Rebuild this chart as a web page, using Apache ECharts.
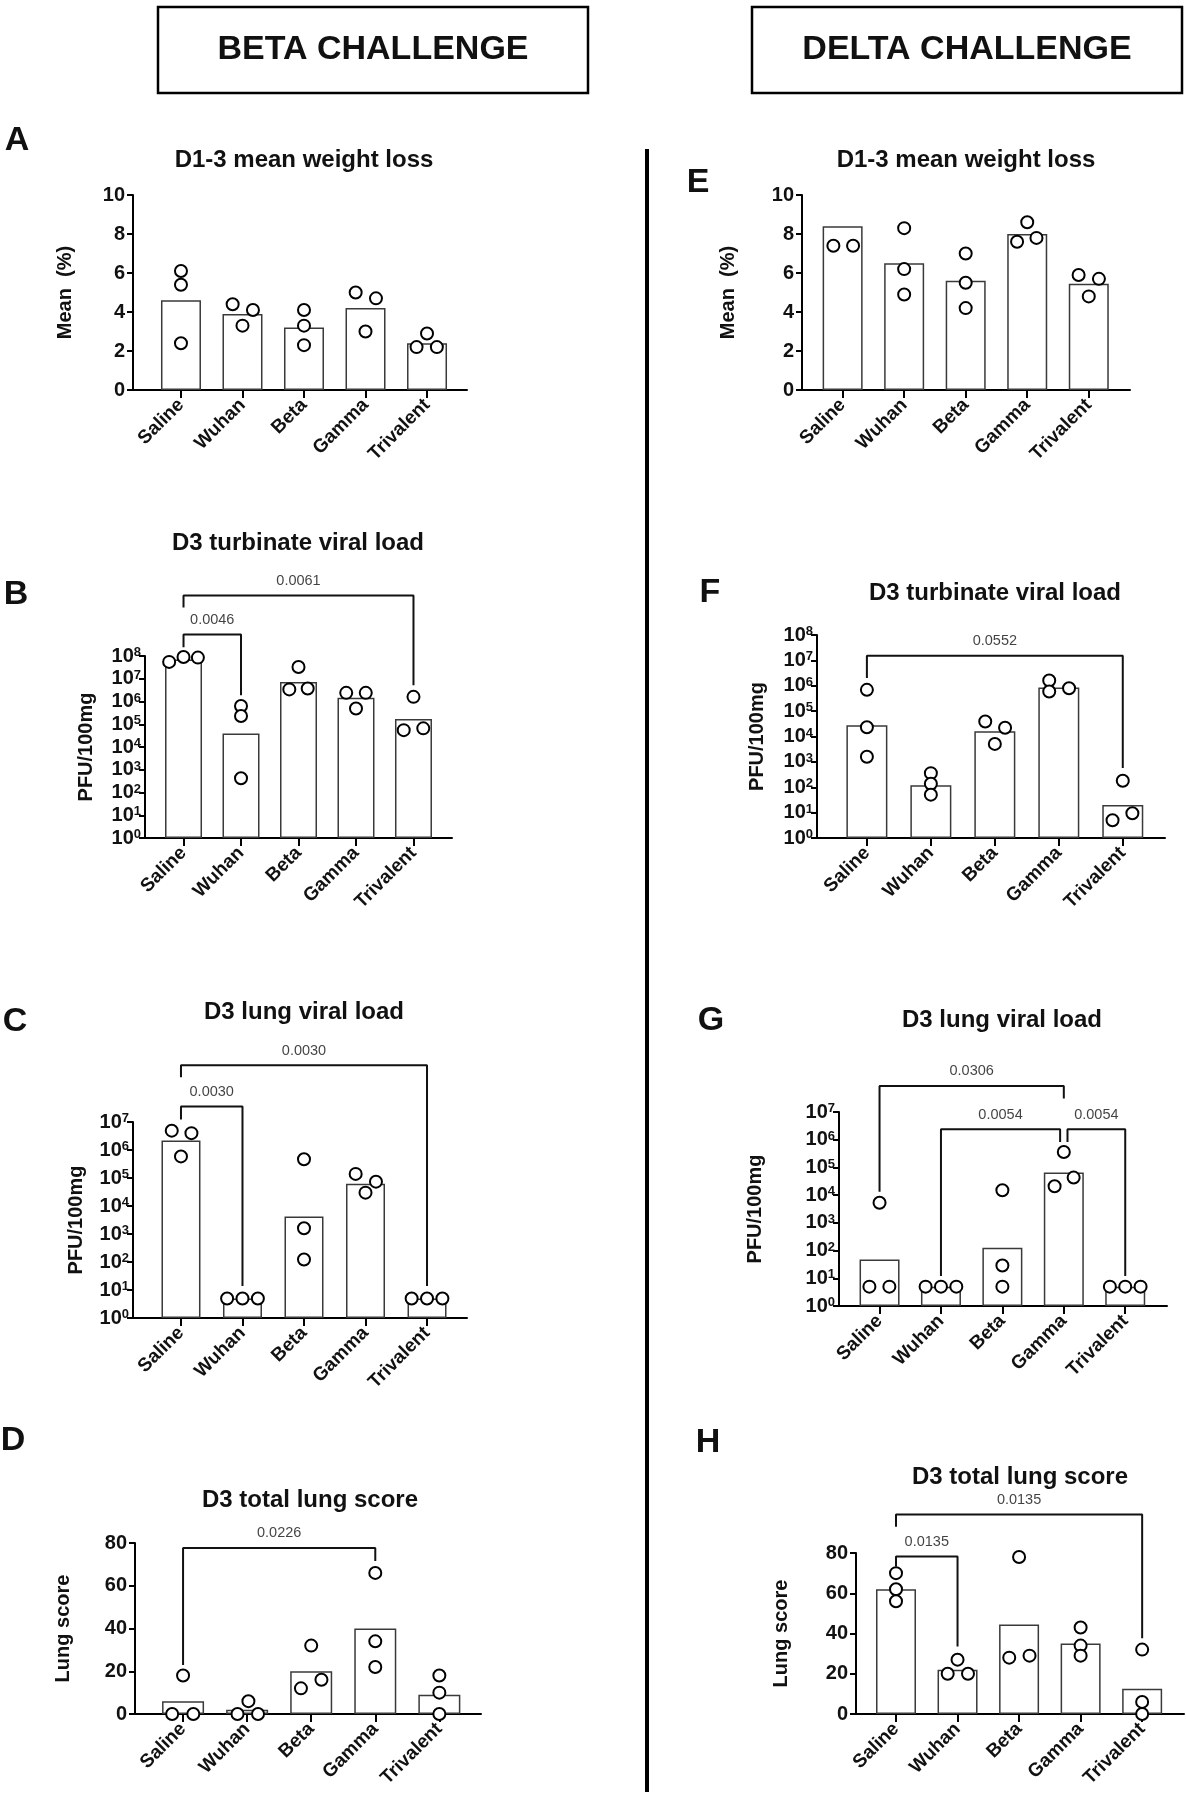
<!DOCTYPE html>
<html style="height: 100%">
<head>
	<meta charset="utf-8">
</head>
<body style="height: 100%; margin: 0; background: #fff">
<div id="container" style="width: 1186px; height: 1800px"></div>
<script type="text/javascript" src="https://cdn.jsdelivr.net/npm/echarts@6/dist/echarts.min.js"></script>
<script type="text/javascript">
	var cats = ['Saline', 'Wuhan', 'Beta', 'Gamma', 'Trivalent'];

	// A - beta challenge, D1-3 mean weight loss (%)
	var aBars = [4.6, 3.9, 3.2, 4.2, 2.4];
	var aPts = [[6.1, 5.4, 2.4], [4.4, 4.1, 3.3], [4.1, 3.3, 2.3], [5.0, 4.7, 3.0], [2.9, 2.2, 2.2]];
	var aJit = [[0, 0, 0], [-0.16, 0.17, 0], [0, 0, 0], [-0.16, 0.17, 0], [0, -0.17, 0.16]];

	// E - delta challenge, D1-3 mean weight loss (%)
	var eBars = [8.4, 6.5, 5.6, 8.0, 5.45];
	var ePts = [[7.4, 7.4], [8.3, 6.2, 4.9], [7.0, 5.5, 4.2], [8.6, 7.6, 7.8], [5.9, 5.7, 4.8]];
	var eJit = [[-0.15, 0.17], [0, 0, 0], [0, 0, 0], [0, -0.165, 0.15], [-0.165, 0.165, 0]];

	// B - beta, turbinate viral load (PFU/100mg)
	var bBars = [7e7, 3.9e4, 7.2e6, 1.45e6, 1.7e5];
	var bPts = [[5.5e7, 9e7, 8.5e7], [6.3e5, 2.3e5, 425], [3.3e7, 3.4e6, 3.7e6], [2.4e6, 2.4e6, 4.9e5], [1.6e6, 5.5e4, 6.6e4]];
	var bJit = [[-0.25, 0, 0.25], [0, 0, 0], [0, -0.16, 0.16], [-0.17, 0.17, 0], [0, -0.17, 0.17]];

	// F - delta, turbinate viral load
	var fBars = [2.8e4, 120, 1.6e4, 8.5e5, 20];
	var fPts = [[6.9e5, 2.3e4, 1.6e3], [360, 138, 51], [3.9e4, 2.2e4, 5.1e3], [1.6e6, 5.9e5, 8e5], [180, 5, 9.5]];
	var fJit = [[0, 0, 0], [0, 0, 0], [-0.15, 0.16, 0], [-0.15, -0.15, 0.16], [0, -0.16, 0.15]];

	// C - beta, lung viral load
	var cBars = [2.2e6, 5, 4.2e3, 6.2e4, 5];
	var cPts = [[4.9e6, 4e6, 5.9e5], [5, 5, 5], [4.7e5, 1.6e3, 123], [1.4e5, 7.4e4, 3e4], [5, 5, 5]];
	var cJit = [[-0.15, 0.17, 0], [-0.25, 0, 0.25], [0, 0, 0], [-0.16, 0.17, 0], [-0.25, 0, 0.25]];

	// G - delta, lung viral load
	var gBars = [48, 5, 126, 6.6e4, 5];
	var gPts = [[5.3e3, 5, 5], [5, 5, 5], [1.5e4, 29, 5], [3.6e5, 2.1e4, 4.3e4], [5, 5, 5]];
	var gJit = [[0, -0.165, 0.16], [-0.25, 0, 0.25], [0, 0, 0], [0, -0.15, 0.16], [-0.25, 0, 0.25]];

	// D - beta, total lung score
	var dBars = [6, 2, 20, 40, 9];
	var dPts = [[18, 0, 0], [6, 0, 0], [32, 12, 16], [66, 34, 22], [18, 10, 0]];
	var dJit = [[0, -0.17, 0.16], [0.02, -0.15, 0.17], [0, -0.16, 0.16], [0, 0, 0], [0, 0, 0]];

	// H - delta, total lung score
	var hBars = [62, 22, 44.5, 35, 12.5];
	var hPts = [[70, 62, 56], [27, 20, 20], [78, 28, 29], [43, 34, 29], [32, 6, 0]];
	var hJit = [[0, 0, 0], [0, -0.16, 0.17], [0, -0.16, 0.17], [0, 0, 0], [0, 0, 0]];

	// p-value brackets: from/to category, bracket level, left and right drop ends
	// (log panels give exponents)
	var bSig = [
		{from: 0, to: 4, p: '0.0061', top: 10.66, l: 10.13, r: 6.71},
		{from: 0, to: 1, p: '0.0046', top: 8.95, l: 8.38, r: 6.27}
	];
	var fSig = [
		{from: 0, to: 4, p: '0.0552', top: 7.18, l: 6.31, r: 2.76}
	];
	var cSig = [
		{from: 0, to: 4, p: '0.0030', top: 9.03, l: 8.60, r: 1.14},
		{from: 0, to: 1, p: '0.0030', top: 7.55, l: 7.09, r: 1.14}
	];
	var gSig = [
		{from: 0, to: 3, p: '0.0306', top: 7.94, l: 4.12, r: 7.49},
		{from: 1, to: 2.94, p: '0.0054', top: 6.38, l: 1.08, r: 5.92},
		{from: 3.06, to: 4, p: '0.0054', top: 6.38, l: 5.92, r: 1.08}
	];
	var dSig = [
		{from: 0, to: 3, p: '0.0226', top: 77.7, l: 22.9, r: 71.6}
	];
	var hSig = [
		{from: 0, to: 4, p: '0.0135', top: 99.1, l: 93, r: 37.7},
		{from: 0, to: 1, p: '0.0135', top: 78.3, l: 73.3, r: 33.5}
	];

	var FONT = 'Liberation Sans, Arial, Helvetica, sans-serif';
	var INK = '#111';

	var panels = [
		{bars: aBars, pts: aPts, jit: aJit, sig: [], log: false, max: 10, step: 2, name: 'Mean  (%)',
			box: [133, 195, 334, 195], xr: [-0.78, 4.65], bw: 40, gap: 58},
		{bars: eBars, pts: ePts, jit: eJit, sig: [], log: false, max: 10, step: 2, name: 'Mean  (%)',
			box: [802, 195, 328, 195], xr: [-0.66, 4.67], bw: 40, gap: 64},
		{bars: bBars, pts: bPts, jit: bJit, sig: bSig, log: true, max: 1e8, name: 'PFU/100mg',
			box: [145, 656, 307, 182], xr: [-0.67, 4.67], bw: 37, gap: 49},
		{bars: fBars, pts: fPts, jit: fJit, sig: fSig, log: true, max: 1e8, name: 'PFU/100mg',
			box: [817, 635, 348, 203], xr: [-0.78, 4.66], bw: 41, gap: 50},
		{bars: cBars, pts: cPts, jit: cJit, sig: cSig, log: true, max: 1e7, name: 'PFU/100mg',
			box: [133, 1122, 334, 196], xr: [-0.78, 4.65], bw: 39, gap: 47},
		{bars: gBars, pts: gPts, jit: gJit, sig: gSig, log: true, max: 1e7, name: 'PFU/100mg',
			box: [839, 1112, 328, 194], xr: [-0.66, 4.68], bw: 40, gap: 74},
		{bars: dBars, pts: dPts, jit: dJit, sig: dSig, log: false, max: 80, step: 20, name: 'Lung score',
			box: [135, 1543, 346, 171], xr: [-0.75, 4.65], bw: 42, gap: 62},
		{bars: hBars, pts: hPts, jit: hJit, sig: hSig, log: false, max: 80, step: 20, name: 'Lung score',
			box: [856, 1553, 328, 161], xr: [-0.65, 4.68], bw: 40, gap: 65}
	];

	var titles = [
		['D1-3 mean weight loss', 304, 160], ['D1-3 mean weight loss', 966, 160],
		['D3 turbinate viral load', 298, 543], ['D3 turbinate viral load', 995, 593],
		['D3 lung viral load', 304, 1012], ['D3 lung viral load', 1002, 1020],
		['D3 total lung score', 310, 1500], ['D3 total lung score', 1020, 1477]
	];
	var letters = [['A', 17, 141], ['E', 698, 183], ['B', 16, 595], ['F', 710, 593],
		['C', 15, 1022], ['G', 711, 1021], ['D', 13, 1441], ['H', 708, 1443]];

	var grids = [], xAxes = [], yAxes = [], series = [];

	panels.forEach(function (p, i) {
		grids.push({left: p.box[0], top: p.box[1], width: p.box[2], height: p.box[3], containLabel: false});

		xAxes.push({
			type: 'value', gridIndex: i, min: p.xr[0], max: p.xr[1],
			splitLine: {show: false},
			axisLine: {onZero: false, lineStyle: {color: '#000', width: 2}},
			axisTick: {customValues: [0, 1, 2, 3, 4], length: 8, lineStyle: {color: '#000', width: 2}},
			axisLabel: {
				customValues: [0, 1, 2, 3, 4], rotate: 45, margin: 12,
				color: INK, fontWeight: 'bold', fontSize: 19, fontFamily: FONT,
				formatter: function (v) { return cats[Math.round(v)] || ''; }
			}
		});

		var y = {
			gridIndex: i, min: p.log ? 1 : 0, max: p.max,
			name: p.name, nameLocation: 'middle', nameGap: p.gap,
			nameTextStyle: {color: INK, fontWeight: 'bold', fontSize: 20, fontFamily: FONT},
			splitLine: {show: false},
			axisLine: {show: true, onZero: false, lineStyle: {color: '#000', width: 2}},
			axisTick: {show: true, length: 6, lineStyle: {color: '#000', width: 2}}
		};
		if (p.log) {
			y.type = 'log';
			y.logBase = 10;
			y.splitNumber = Math.round(Math.log(p.max) / Math.LN10);
			y.minorTick = {show: false};
			y.axisLabel = {
				margin: 4, interval: 0, showMinLabel: true, showMaxLabel: true, hideOverlap: false,
				formatter: function (v) {
					return '{b|10}{s|' + Math.round(Math.log(v) / Math.LN10) + '}';
				},
				rich: {
					b: {fontSize: 20, fontWeight: 'bold', fontFamily: FONT, color: INK, lineHeight: 20, verticalAlign: 'bottom'},
					s: {fontSize: 13, fontWeight: 'bold', fontFamily: FONT, color: INK, lineHeight: 2, verticalAlign: 'top'}
				}
			};
		} else {
			y.type = 'value';
			y.interval = p.step;
			y.axisLabel = {margin: 8, color: INK, fontWeight: 'bold', fontSize: 20, fontFamily: FONT,
				showMinLabel: true, showMaxLabel: true};
		}
		yAxes.push(y);

		series.push({
			type: 'bar', xAxisIndex: i, yAxisIndex: i, barWidth: p.bw, silent: true,
			itemStyle: {color: '#fff', borderColor: '#3a3a3a', borderWidth: 1.5},
			data: p.bars.map(function (v, k) { return [k, v]; })
		});

		var dots = [];
		p.pts.forEach(function (grp, k) {
			grp.forEach(function (v, j) { dots.push([k + p.jit[k][j], v]); });
		});
		series.push({
			type: 'scatter', xAxisIndex: i, yAxisIndex: i, symbol: 'circle', symbolSize: 12,
			clip: false, silent: true, z: 5,
			itemStyle: {color: '#fff', borderColor: '#000', borderWidth: 2, opacity: 1},
			data: dots
		});

		p.sig.forEach(function (s) {
			var f = function (v) { return p.log ? Math.pow(10, v) : v; };
			series.push({
				type: 'line', xAxisIndex: i, yAxisIndex: i, symbol: 'none', clip: false, silent: true, z: 4,
				lineStyle: {color: INK, width: 2},
				data: [[s.from, f(s.l)], [s.from, f(s.top)], [s.to, f(s.top)], [s.to, f(s.r)]]
			});
			series.push({
				type: 'scatter', xAxisIndex: i, yAxisIndex: i, symbolSize: 0, clip: false, silent: true,
				label: {show: true, position: 'top', distance: 7, color: INK, fontSize: 14.5, fontFamily: FONT,
					formatter: s.p},
				data: [[(s.from + s.to) / 2, f(s.top)]]
			});
		});
	});

	var graphics = [
		{type: 'rect', shape: {x: 158, y: 7, width: 430, height: 86}, style: {fill: '#fff', stroke: '#000', lineWidth: 2.5}},
		{type: 'rect', shape: {x: 752, y: 7, width: 430, height: 86}, style: {fill: '#fff', stroke: '#000', lineWidth: 2.5}},
		{type: 'text', x: 373, y: 50, style: {text: 'BETA CHALLENGE', font: 'bold 34px ' + FONT, fill: INK, textAlign: 'center', textVerticalAlign: 'middle'}},
		{type: 'text', x: 967, y: 50, style: {text: 'DELTA CHALLENGE', font: 'bold 34px ' + FONT, fill: INK, textAlign: 'center', textVerticalAlign: 'middle'}},
		{type: 'line', shape: {x1: 647, y1: 149, x2: 647, y2: 1792}, style: {stroke: '#000', lineWidth: 4}}
	];
	titles.forEach(function (t) {
		graphics.push({type: 'text', x: t[1], y: t[2], style: {text: t[0], font: 'bold 24px ' + FONT, fill: INK, textAlign: 'center', textVerticalAlign: 'middle'}});
	});
	letters.forEach(function (t) {
		graphics.push({type: 'text', x: t[1], y: t[2], style: {text: t[0], font: 'bold 34px ' + FONT, fill: INK, textAlign: 'center', textVerticalAlign: 'middle'}});
	});

	var dom = document.getElementById('container');
	var myChart = echarts.init(dom);
	var option = {
		animation: false,
		backgroundColor: '#fff',
		grid: grids,
		xAxis: xAxes,
		yAxis: yAxes,
		series: series,
		graphic: graphics
	};
	myChart.setOption(option);
</script>
</body>
</html>
